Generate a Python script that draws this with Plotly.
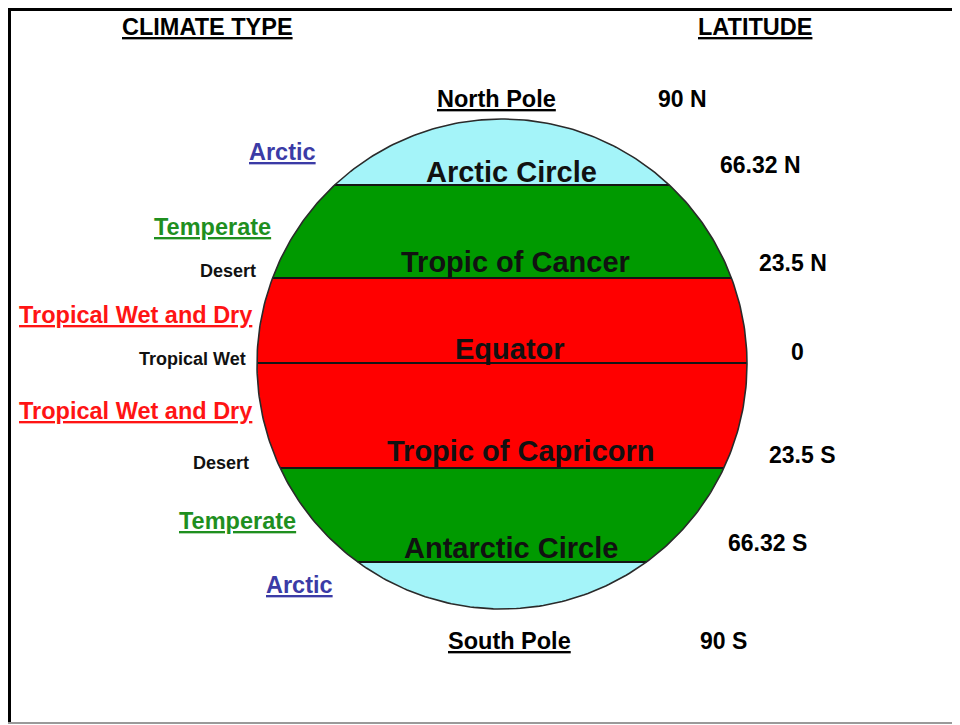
import numpy as np
import plotly.graph_objects as go

# ---------------- data ----------------
climate_types = ["Arctic", "Temperate", "Desert", "Tropical Wet and Dry", "Tropical Wet",
                 "Tropical Wet and Dry", "Desert", "Temperate", "Arctic"]
climate_major = [True, True, False, True, False, True, False, True, True]
latitude_labels = ["90 N", "66.32 N", "23.5 N", "0", "23.5 S", "66.32 S", "90 S"]
circle_lines = ["Arctic Circle", "Tropic of Cancer", "Equator", "Tropic of Capricorn", "Antarctic Circle"]
pole_labels = ["North Pole", "South Pole"]
zones = ["Arctic", "Temperate", "Tropical", "Tropical", "Temperate", "Arctic"]
headers = ["CLIMATE TYPE", "LATITUDE"]

# ---------------- styles / layout positions ----------------
FONT = "Liberation Sans, Arial, sans-serif"
zone_fill = {"Arctic": "#a4f4f9", "Temperate": "#009a00", "Tropical": "#ff0000"}
climate_color = {"Arctic": "#3b3ba6", "Temperate": "#1f8f1f", "Desert": "#111111",
                 "Tropical Wet and Dry": "#ff1414", "Tropical Wet": "#111111"}

PAGE_OFF = 8                                    # default body margin of the html page
CX, CY, R = 502, 364, 245                       # globe centre / radius (pixels)
band_edges = [CY - R, 185, 278, 363, 468, 562, CY + R]   # boundaries of coloured bands
line_edges = band_edges[1:-1]                   # the five named circles

climate_pos = [(282, 152, "center"), (212, 227, "center"), (258, 271, "right"),
               (135, 315, "center"), (248, 359, "right"), (135, 411, "center"),
               (251, 463, "right"), (237, 521, "center"), (299, 585, "center")]
lat_pos = [(682, 99), (760, 165), (793, 263), (797, 352), (802, 455), (767, 543), (723, 641)]
line_label_pos = [(511, 172), (515, 262), (510, 349), (520, 451), (511, 548)]
pole_pos = [(496, 99), (509, 641)]
header_pos = [(207, 27), (755, 27)]

fig = go.Figure()

def half_width(y):
    return np.sqrt(np.clip(R ** 2 - (y - CY) ** 2, 0, None))

# coloured bands
for zone, y0, y1 in zip(zones, band_edges[:-1], band_edges[1:]):
    ys = np.linspace(y0, y1, 80)
    hw = half_width(ys)
    xs = np.concatenate([CX - hw, (CX + hw)[::-1]])
    yy = np.concatenate([ys, ys[::-1]])
    fig.add_trace(go.Scatter(x=xs, y=yy, mode="lines", fill="toself",
                             fillcolor=zone_fill[zone], line=dict(width=0),
                             hoverinfo="skip"))

# named circles (chords)
for y in line_edges:
    hw = half_width(y)
    fig.add_trace(go.Scatter(x=[CX - hw, CX + hw], y=[y, y], mode="lines",
                             line=dict(color="#151515", width=2.2), hoverinfo="skip"))

# globe outline
t = np.linspace(0, 2 * np.pi, 400)
fig.add_trace(go.Scatter(x=CX + R * np.cos(t), y=CY + R * np.sin(t), mode="lines",
                         line=dict(color="#2a2a2a", width=1.6), hoverinfo="skip"))

ann = []
for name, major, (x, y, anchor) in zip(climate_types, climate_major, climate_pos):
    txt = f"<u>{name}</u>" if major else name
    ann.append(dict(x=x, y=y, text=txt, xanchor=anchor, yanchor="middle", showarrow=False,
                    font=dict(family=FONT, size=23.5 if major else 18, weight="bold",
                              color=climate_color[name])))
for name, (x, y) in zip(latitude_labels, lat_pos):
    ann.append(dict(x=x, y=y, text=name, xanchor="center", yanchor="middle", showarrow=False,
                    font=dict(family=FONT, size=23, weight="bold", color="#000000")))
for name, (x, y) in zip(circle_lines, line_label_pos):
    ann.append(dict(x=x, y=y, text=name, xanchor="center", yanchor="middle", showarrow=False,
                    font=dict(family=FONT, size=29, weight="bold", color="#111111")))
for name, (x, y) in zip(pole_labels, pole_pos):
    ann.append(dict(x=x, y=y, text=f"<u>{name}</u>", xanchor="center", yanchor="middle",
                    showarrow=False, font=dict(family=FONT, size=23.5, weight="bold", color="#000000")))
for name, (x, y) in zip(headers, header_pos):
    ann.append(dict(x=x, y=y, text=f"<u>{name}</u>", xanchor="center", yanchor="middle",
                    showarrow=False, font=dict(family=FONT, size=23.5, weight="bold", color="#000000")))

shapes = [
    dict(type="line", x0=9.5, x1=9.5, y0=8, y1=723, line=dict(color="#000000", width=3)),
    dict(type="line", x0=8, x1=975, y0=9.5, y1=9.5, line=dict(color="#000000", width=3)),
    dict(type="line", x0=8, x1=975, y0=723, y1=723, line=dict(color="#9a9a9a", width=2)),
]

fig.update_layout(
    width=960, height=725, margin=dict(l=0, r=0, t=0, b=0),
    paper_bgcolor="white", plot_bgcolor="white", showlegend=False,
    xaxis=dict(range=[PAGE_OFF, 960 + PAGE_OFF], visible=False, fixedrange=True),
    yaxis=dict(range=[725 + PAGE_OFF, PAGE_OFF], visible=False, fixedrange=True),
    annotations=ann, shapes=shapes,
)
fig.write_html("out.html")
